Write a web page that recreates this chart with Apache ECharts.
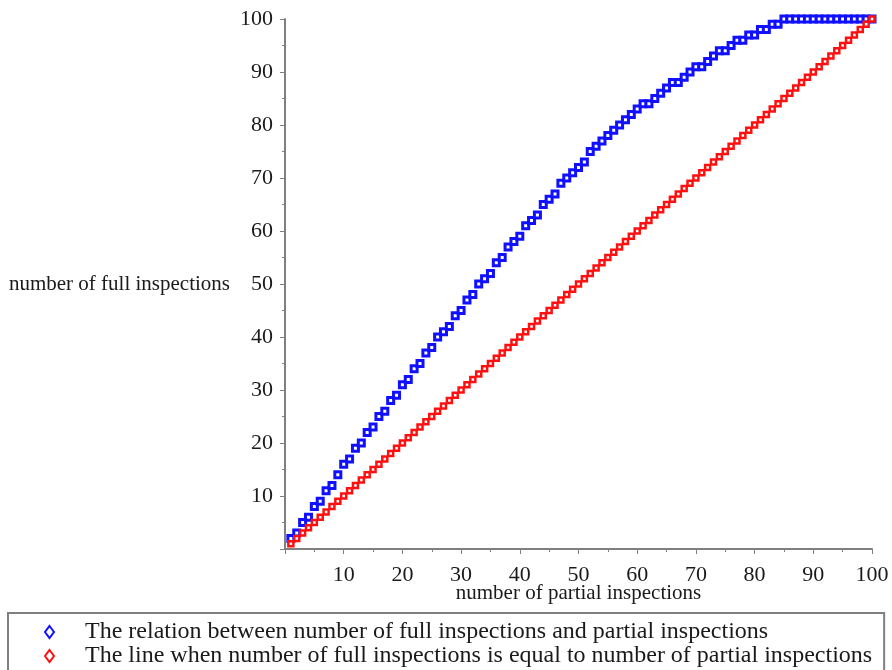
<!DOCTYPE html>
<html>
<head>
<meta charset="utf-8">
<title>Full vs partial inspections</title>
<script src="https://cdn.jsdelivr.net/npm/echarts@6/dist/echarts.min.js"></script>
<style>
  html, body { margin: 0; padding: 0; background: #fff; }
  #chart { width: 892px; height: 670px; }
</style>
</head>
<body>
<div id="chart"></div>
<script>
// number of partial inspections (x values)
const partialInspections = [
  1, 2, 3, 4, 5, 6, 7, 8, 9, 10,
  11, 12, 13, 14, 15, 16, 17, 18, 19, 20,
  21, 22, 23, 24, 25, 26, 27, 28, 29, 30,
  31, 32, 33, 34, 35, 36, 37, 38, 39, 40,
  41, 42, 43, 44, 45, 46, 47, 48, 49, 50,
  51, 52, 53, 54, 55, 56, 57, 58, 59, 60,
  61, 62, 63, 64, 65, 66, 67, 68, 69, 70,
  71, 72, 73, 74, 75, 76, 77, 78, 79, 80,
  81, 82, 83, 84, 85, 86, 87, 88, 89, 90,
  91, 92, 93, 94, 95, 96, 97, 98, 99, 100
];

// number of full inspections for each count of partial inspections
const fullInspections = [
  2, 3, 5, 6, 8, 9, 11, 12, 14, 16,
  17, 19, 20, 22, 23, 25, 26, 28, 29, 31,
  32, 34, 35, 37, 38, 40, 41, 42, 44, 45,
  47, 48, 50, 51, 52, 54, 55, 57, 58, 59,
  61, 62, 63, 65, 66, 67, 69, 70, 71, 72,
  73, 75, 76, 77, 78, 79, 80, 81, 82, 83,
  84, 84, 85, 86, 87, 88, 88, 89, 90, 91,
  91, 92, 93, 94, 94, 95, 96, 96, 97, 97,
  98, 98, 99, 99, 100, 100, 100, 100, 100, 100,
  100, 100, 100, 100, 100, 100, 100, 100, 100, 100
];

// reference line: full inspections equal to partial inspections
const equalLine = [
  1, 2, 3, 4, 5, 6, 7, 8, 9, 10,
  11, 12, 13, 14, 15, 16, 17, 18, 19, 20,
  21, 22, 23, 24, 25, 26, 27, 28, 29, 30,
  31, 32, 33, 34, 35, 36, 37, 38, 39, 40,
  41, 42, 43, 44, 45, 46, 47, 48, 49, 50,
  51, 52, 53, 54, 55, 56, 57, 58, 59, 60,
  61, 62, 63, 64, 65, 66, 67, 68, 69, 70,
  71, 72, 73, 74, 75, 76, 77, 78, 79, 80,
  81, 82, 83, 84, 85, 86, 87, 88, 89, 90,
  91, 92, 93, 94, 95, 96, 97, 98, 99, 100
];

const seriesNames = [
  'The relation between number of full inspections and partial inspections',
  'The line when number of full inspections is equal to number of partial inspections'
];
const axisNames = ['number of partial inspections', 'number of full inspections'];

const BLUE = '#1010ff';
const RED = '#ff1010';
const AXIS_GREY = '#808080';
const TEXT = '#1a1a1a';
const FONT = '"Liberation Serif", "Times New Roman", serif';

const pairs = (xs, ys) => xs.map((x, i) => [x, ys[i]]);

const axisCommon = {
  type: 'value',
  min: 0,
  max: 100,
  interval: 10,
  nameLocation: 'middle',
  nameMoveOverlap: false,
  nameTextStyle: { fontFamily: FONT, fontSize: 21, color: TEXT },
  axisLine: { show: true, lineStyle: { color: AXIS_GREY, width: 2 } },
  axisTick: { show: true, inside: false, length: 5, lineStyle: { color: AXIS_GREY, width: 1 } },
  minorTick: { show: true, splitNumber: 2, length: 3, lineStyle: { color: AXIS_GREY, width: 1 } },
  splitLine: { show: false },
  axisLabel: {
    fontFamily: FONT,
    fontSize: 22,
    color: TEXT,
    formatter: v => (v === 0 ? '' : String(v))
  }
};

const chart = echarts.init(document.getElementById('chart'), null, { renderer: 'canvas' });

chart.setOption({
  backgroundColor: '#ffffff',
  animation: false,
  grid: { left: 285, right: 20, top: 19, bottom: 121, containLabel: false },
  xAxis: Object.assign({}, axisCommon, {
    name: axisNames[0],
    nameGap: 34,
    axisLabel: Object.assign({}, axisCommon.axisLabel, { margin: 15 })
  }),
  yAxis: Object.assign({}, axisCommon, {
    name: axisNames[1],
    nameGap: 55,
    nameRotate: 0,
    axisLabel: Object.assign({}, axisCommon.axisLabel, { margin: 12 })
  }),
  legend: {
    orient: 'vertical',
    left: 8,
    top: 613,
    height: 140,
    padding: [7, 12, 30, 36],
    itemWidth: 9,
    itemHeight: 12,
    itemGap: 0,
    selectedMode: false,
    borderColor: AXIS_GREY,
    borderWidth: 2,
    textStyle: {
      fontFamily: FONT,
      fontSize: 24,
      color: TEXT,
      lineHeight: 24,
      padding: [0, 0, 0, 26]
    },
    data: [
      {
        name: seriesNames[0],
        icon: 'diamond',
        itemStyle: { color: '#ffffff', borderColor: BLUE, borderWidth: 2 }
      },
      {
        name: seriesNames[1],
        icon: 'diamond',
        itemStyle: { color: '#ffffff', borderColor: RED, borderWidth: 2 }
      }
    ]
  },
  series: [
    {
      name: seriesNames[0],
      type: 'scatter',
      symbol: 'rect',
      symbolSize: 6,
      silent: true,
      itemStyle: { color: '#ffffff', borderColor: BLUE, borderWidth: 3, opacity: 1 },
      data: pairs(partialInspections, fullInspections)
    },
    {
      name: seriesNames[1],
      type: 'scatter',
      symbol: 'rect',
      symbolSize: 5,
      silent: true,
      itemStyle: { color: '#ffffff', borderColor: RED, borderWidth: 2.5, opacity: 1 },
      data: pairs(partialInspections, equalLine)
    }
  ]
});
</script>
</body>
</html>
